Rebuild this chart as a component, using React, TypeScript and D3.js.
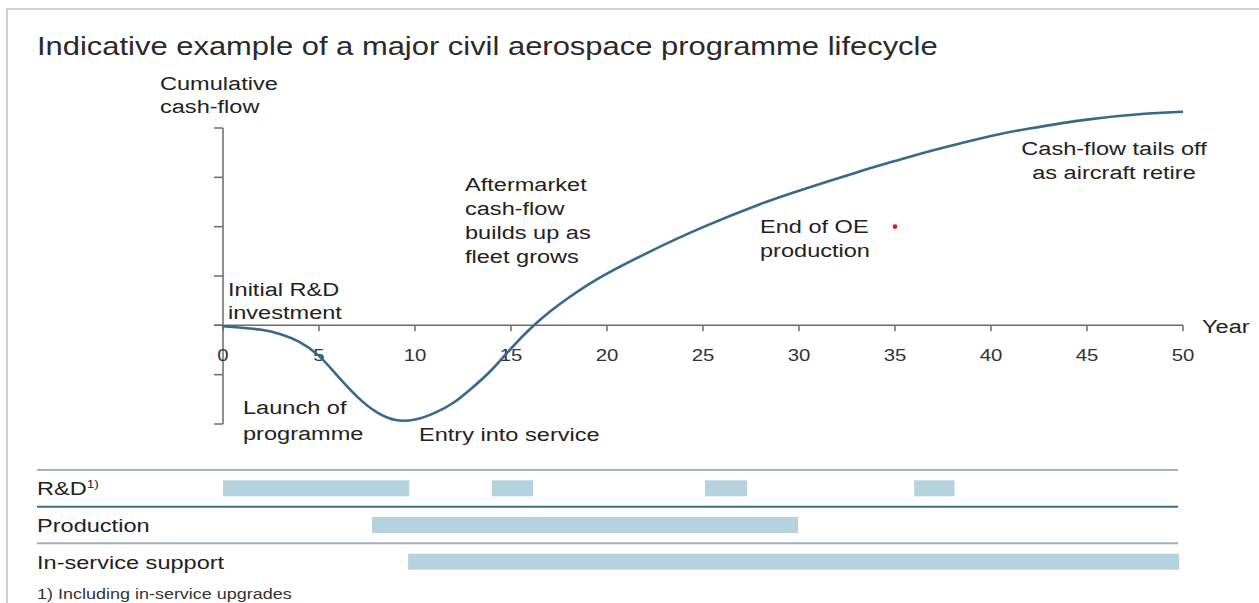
import React from "react";
import * as d3 from "d3";

const years = [0, 1, 2, 3, 4, 5, 6, 7, 8, 9, 10, 11, 12, 13, 14, 15, 16, 17, 18, 19, 20, 22, 25, 28, 30, 33, 35, 37, 40, 42, 45, 48, 50];
const cashFlow = [-0.02, -0.05, -0.09, -0.18, -0.34, -0.62, -1.04, -1.45, -1.76, -1.92, -1.91, -1.78, -1.57, -1.26, -0.9, -0.47, -0.07, 0.27, 0.56, 0.82, 1.05, 1.45, 1.99, 2.46, 2.73, 3.1, 3.33, 3.55, 3.84, 3.99, 4.17, 4.29, 4.33];
const xTicks = [0, 5, 10, 15, 20, 25, 30, 35, 40, 45, 50];
const yTicks = [-2, -1, 0, 1, 2, 3, 4];
const endOfOE = { year: 35, value: 2 };

const rows = ["R&D", "Production", "In-service support"];
const rdPhases = [[0, 9.7], [14, 16.15], [25.1, 27.3], [36, 38.1]];
const productionPhases = [[7.76, 29.95]];
const servicePhases = [[9.64, 49.8]];
const phases = [rdPhases, productionPhases, servicePhases];

const FONT = "'Liberation Sans', Arial, sans-serif";
const SX = 1.24;

function T({ x, y, children, size = 19, anchor = "start", sx = SX, fill = "#222" }: any) {
  return (
    <text
      transform={`translate(${x},${y}) scale(${sx},1)`}
      fontSize={size}
      fontFamily={FONT}
      textAnchor={anchor}
      fill={fill}
    >
      {children}
    </text>
  );
}

export default function App() {
  const W = 1259, H = 603;
  const x = d3.scaleLinear().domain([0, 50]).range([223, 1183]);
  const y = d3.scaleLinear().domain([-2, 4]).range([424, 128]);
  const line = d3
    .line<number>()
    .x((_, i) => x(years[i]))
    .y((d) => y(d))
    .curve(d3.curveNatural);
  const rowBand = d3.scaleBand().domain(rows).range([470, 580]).paddingInner(0).paddingOuter(0);
  const barH = 16;
  const sepColors = ["#a3b4bf", "#3d6f8b", "#a3b1bb"];
  const axisColor = "#6b6b6b";

  return (
    <svg
      width={W}
      height={H}
      style={{ position: "fixed", left: 0, top: 0, background: "#fff" }}
    >
      {/* frame */}
      <line x1={6} x2={W} y1={9} y2={9} stroke="#d2d2d2" strokeWidth={2} />
      <line x1={7} x2={7} y1={9} y2={H} stroke="#d2d2d2" strokeWidth={2} />

      <T x={37} y={55} size={26} sx={1.19} fill="#2a2a2a">
        Indicative example of a major civil aerospace programme lifecycle
      </T>

      <T x={160} y={90}>Cumulative</T>
      <T x={160} y={113}>cash-flow</T>

      {/* y axis */}
      <line x1={x(0)} x2={x(0)} y1={y(4)} y2={y(-2)} stroke={axisColor} strokeWidth={1.5} />
      {yTicks.map((t) => (
        <line key={t} x1={x(0) - 9} x2={x(0)} y1={y(t)} y2={y(t)} stroke={axisColor} strokeWidth={1.5} />
      ))}

      {/* x axis */}
      <line x1={x(0) - 9} x2={x(50)} y1={y(0)} y2={y(0)} stroke={axisColor} strokeWidth={1.5} />
      {xTicks.map((t) => (
        <g key={t}>
          <line x1={x(t)} x2={x(t)} y1={y(0)} y2={y(0) + 6} stroke={axisColor} strokeWidth={1.5} />
          <T x={x(t)} y={361} size={17} anchor="middle" sx={1.2} fill="#333">
            {t}
          </T>
        </g>
      ))}
      <T x={1202} y={333}>Year</T>

      {/* curve */}
      <path d={line(cashFlow) || ""} fill="none" stroke="#36698a" strokeWidth={2.6} />
      <circle cx={x(endOfOE.year)} cy={y(endOfOE.value)} r={2.3} fill="#e8141b" />

      {/* annotations */}
      <T x={228} y={296}>Initial R&amp;D</T>
      <T x={228} y={319}>investment</T>
      <T x={465} y={191}>Aftermarket</T>
      <T x={465} y={215}>cash-flow</T>
      <T x={465} y={239}>builds up as</T>
      <T x={465} y={263}>fleet grows</T>
      <T x={760} y={233}>End of OE</T>
      <T x={760} y={257}>production</T>
      <T x={1114} y={155} anchor="middle">Cash-flow tails off</T>
      <T x={1114} y={179} anchor="middle">as aircraft retire</T>
      <T x={243} y={414}>Launch of</T>
      <T x={243} y={440}>programme</T>
      <T x={419} y={441}>Entry into service</T>

      {/* phase rows */}
      {rows.map((r, i) => {
        const top = rowBand(r) as number;
        const bw = rowBand.bandwidth();
        return (
          <g key={r}>
            <line x1={37} x2={1178} y1={top} y2={top} stroke={sepColors[i]} strokeWidth={2} />
            {phases[i].map(([a, b], j) => (
              <rect
                key={j}
                x={x(a)}
                y={top + bw / 2 - barH / 2}
                width={x(b) - x(a)}
                height={barH}
                fill="#b6d2de"
              />
            ))}
            {i === 0 ? (
              <T x={37} y={top + bw / 2 + 7}>
                R&amp;D<tspan fontSize={11} dy={-7}>1)</tspan>
              </T>
            ) : (
              <T x={37} y={top + bw / 2 + 7}>{r}</T>
            )}
          </g>
        );
      })}

      <T x={37} y={599} size={14.5} fill="#333">1) Including in-service upgrades</T>
    </svg>
  );
}
